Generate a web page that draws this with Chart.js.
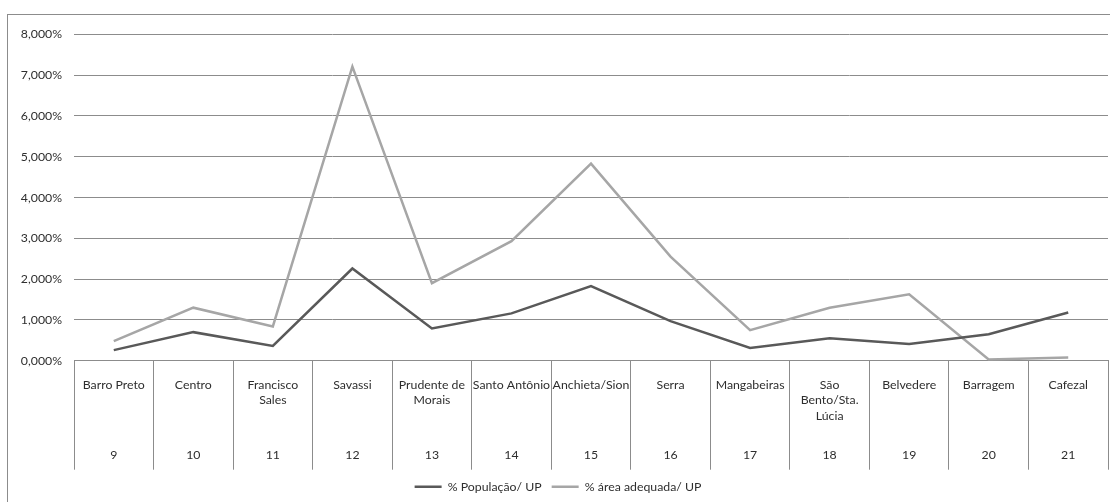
<!DOCTYPE html>
<html lang="pt-BR">
<head>
<meta charset="utf-8">
<title>% População e % área adequada por UP</title>
<script src="https://cdn.jsdelivr.net/npm/chart.js@4/dist/chart.umd.min.js"></script>
<style>
    html, body { margin: 0; padding: 0; background: #fff; overflow: hidden; }
    .chart-frame {
        position: absolute;
        left: 7px;
        top: 14px;
        width: 1110px;
        height: 500px;
        border: 1px solid #8c8c8c;
        background: #fff;
    }
    .chart-frame canvas { display: block; }
</style>
</head>
<body>
<div class="chart-frame">
    <div style="position: relative; width: 1102px; height: 488px;">
        <canvas id="upChart"></canvas>
    </div>
</div>
<script>
    // Unidades de planejamento (nome, quebrado em linhas) e respectivo número
    const upNames = [
        ['Barro Preto'],
        ['Centro'],
        ['Francisco', 'Sales'],
        ['Savassi'],
        ['Prudente de', 'Morais'],
        ['Santo Antônio'],
        ['Anchieta/Sion'],
        ['Serra'],
        ['Mangabeiras'],
        ['São', 'Bento/Sta.', 'Lúcia'],
        ['Belvedere'],
        ['Barragem'],
        ['Cafezal']
    ];
    const upNumbers = ['9', '10', '11', '12', '13', '14', '15', '16', '17', '18', '19', '20', '21'];

    // valores em %
    const populacaoUP = [0.26, 0.70, 0.36, 2.26, 0.79, 1.16, 1.83, 0.97, 0.31, 0.55, 0.41, 0.65, 1.18];
    const areaAdequadaUP = [0.48, 1.30, 0.84, 7.21, 1.90, 2.93, 4.83, 2.55, 0.75, 1.30, 1.63, 0.03, 0.08];

    const yTicks = [0, 1, 2, 3, 4, 5, 6, 7, 8];

    const gridColor = '#8c8c8c';
    const textColor = '#2e2e2e';
    const baseFont = { family: 'Lato, "Open Sans", sans-serif', size: 12.3 };

    const formatPct = v => v.toFixed(3).replace('.', ',') + '%';

    const ctx = document.getElementById('upChart');

    new Chart(ctx, {
        type: 'line',
        data: {
            labels: upNames,
            datasets: [
                {
                    label: '% População/ UP',
                    data: populacaoUP,
                    borderColor: '#595959',
                    backgroundColor: '#595959',
                    borderWidth: 2.5,
                    pointRadius: 0,
                    tension: 0
                },
                {
                    label: '% área adequada/ UP',
                    data: areaAdequadaUP,
                    borderColor: '#a6a6a6',
                    backgroundColor: '#a6a6a6',
                    borderWidth: 2.5,
                    pointRadius: 0,
                    tension: 0
                }
            ]
        },
        options: {
            responsive: true,
            maintainAspectRatio: false,
            animation: false,
            layout: { padding: { top: 14, right: 2, bottom: 0, left: 0 } },
            plugins: {
                tooltip: { enabled: false },
                legend: {
                    position: 'bottom',
                    labels: {
                        usePointStyle: true,
                        pointStyle: 'line',
                        pointStyleWidth: 27,
                        color: textColor,
                        font: baseFont,
                        padding: 10
                    }
                }
            },
            scales: {
                x: {
                    type: 'category',
                    position: 'bottom',
                    offset: true,
                    border: { display: true, color: gridColor, width: 1 },
                    grid: {
                        offset: true,
                        drawOnChartArea: false,
                        drawTicks: true,
                        tickLength: 109,
                        color: gridColor
                    },
                    ticks: {
                        autoSkip: false,
                        maxRotation: 0,
                        minRotation: 0,
                        padding: -93,
                        color: textColor,
                        font: { ...baseFont, lineHeight: 1.29 }
                    },
                    afterFit: scale => { scale.height = 85; }
                },
                // segunda linha de rótulos: número da UP
                x2: {
                    type: 'category',
                    position: 'bottom',
                    labels: upNumbers,
                    offset: true,
                    weight: 1,
                    border: { display: false },
                    grid: { display: false, drawTicks: false },
                    ticks: {
                        autoSkip: false,
                        maxRotation: 0,
                        padding: 1,
                        color: textColor,
                        font: { ...baseFont, lineHeight: 1.29 }
                    },
                    afterFit: scale => { scale.height = 25; }
                },
                y: {
                    min: yTicks[0],
                    max: yTicks[yTicks.length - 1],
                    border: { display: false },
                    grid: { color: gridColor, drawTicks: false },
                    afterBuildTicks: scale => {
                        scale.ticks = yTicks.map(v => ({ value: v }));
                    },
                    ticks: {
                        padding: 12,
                        color: textColor,
                        font: baseFont,
                        callback: v => formatPct(v)
                    },
                    afterFit: scale => { scale.width = 66; }
                }
            }
        }
    });
</script>
</body>
</html>
